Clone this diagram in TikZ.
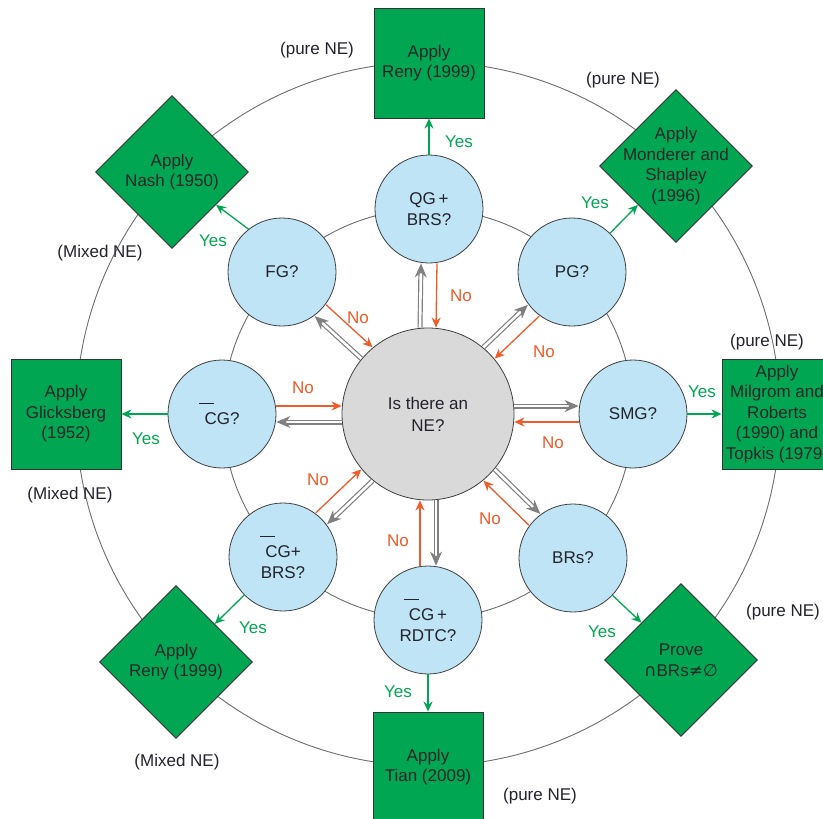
\documentclass[tikz,border=0pt]{standalone}
\usepackage{fontspec}
\setmainfont{Liberation Sans}
\newfontfamily\symf{DejaVu Sans}
\usetikzlibrary{shapes.geometric,arrows.meta,calc}
\definecolor{boxgreen}{RGB}{0,166,81}
\definecolor{ygreen}{RGB}{0,166,81}
\definecolor{nored}{RGB}{241,90,41}
\definecolor{qblue}{RGB}{190,228,246}
\definecolor{cgray}{RGB}{217,217,217}
\definecolor{ringc}{RGB}{110,110,110}
\definecolor{txt}{RGB}{35,35,45}
\newcommand\Cb{\makebox[0pt][l]{\hspace{-0.3em}\rule[1.22em]{0.88em}{0.075em}}C}
\begin{document}
\begin{tikzpicture}[x=1pt,y=1pt,
  every node/.style={font=\fontsize{17}{20.5}\selectfont, text=txt},
  ring/.style={draw=ringc, line width=0.9pt},
  qnode/.style={circle, draw=black!75, line width=0.8pt, fill=qblue, minimum size=108pt, inner sep=0pt, align=center},
  centernode/.style={circle, draw=black!75, line width=0.8pt, fill=cgray, minimum size=172pt, inner sep=0pt, align=center, font=\fontsize{17}{22}\selectfont},
  rectbox/.style={rectangle, draw=black!80, line width=0.9pt, fill=boxgreen, minimum size=110pt, inner sep=0pt, align=center, text=black!85},
  dbox/.style={diamond, draw=black!80, line width=0.9pt, fill=boxgreen, minimum size=153pt, inner sep=0pt},
  dtext/.style={align=center, text=black!85, inner sep=0pt},
  yes/.style={text=ygreen},
  no/.style={text=nored},
  ne/.style={text=txt},
  yarrow/.style={draw=ygreen, line width=1.3pt, -{Stealth[length=10pt,width=9pt]}},
  rarrow/.style={draw=nored, line width=1.3pt, -{Stealth[length=10pt,width=9pt]}},
  garrow/.style={draw=gray, line width=1.2pt, double=white, double distance=2.6pt, -{Stealth[length=14pt,width=12pt]}}
]
\useasboundingbox (0,0) rectangle (823,-819);
\fill[white] (0,0) rectangle (823,-819);
% rings
\draw[ring] (428,-414) circle (352);
\draw[ring] (428,-414) circle (205);
% center
\node[centernode] (ctr) at (428,-414) {Is there an\\NE?};
% question circles
\node[qnode] (q) at (429,-209) {QG\,+\\BRS?};
\node[qnode] (p) at (572,-272) {PG?};
\node[qnode] (s) at (633,-414) {SMG?};
\node[qnode] (b) at (573,-558) {BRs?};
\node[qnode] (r) at (428,-620) {\Cb G\,+\\RDTC?};
\node[qnode] (cb) at (283,-557) {\Cb G+\\BRS?};
\node[qnode] (c) at (222,-414) {\Cb G?};
\node[qnode] (f) at (282,-272) {FG?};
% outer boxes
\node[rectbox] (tr) at (429,-63) {Apply\\Reny (1999)};
\node[dbox] (mond) at (676,-166) {};
\node[dtext] at (mond) {Apply\\Monderer and\\Shapley\\(1996)};
\node[rectbox] (rr) at (777,-414) {Apply\\Milgrom and\\Roberts\\(1990) and\\Topkis (1979)};
\node[dbox] (brd) at (681,-660) {};
\node[dtext] at (brd) {Prove\\{\symf ∩}BRs{\symf ≠∅}};
\node[rectbox] (br) at (428,-767) {Apply\\Tian (2009)};
\node[dbox] (bld) at (176,-662) {};
\node[dtext] at (bld) {Apply\\Reny (1999)};
\node[rectbox] (lr) at (66,-414) {Apply\\Glicksberg\\(1952)};
\node[dbox] (nash) at (172,-172) {};
\node[dtext] at (nash) {Apply\\Nash (1950)};
% gray and red arrows
\foreach \n/\a in {q/90, p/45, s/0, b/-45, r/-90, cb/-135, c/180, f/135}{
  \pgfmathtruncatemacro\o{\a+180}
  \draw[garrow] ([shift={(\a+90:8)}]ctr.\a) -- ([shift={(\a+90:8)}]\n.\o);
  \draw[rarrow] ([shift={(\a-90:8)}]\n.\o) -- ([shift={(\a-90:8)}]ctr.\a);
}
% green arrows
\draw[yarrow] (q) -- (tr);
\draw[yarrow] (p) -- (mond);
\draw[yarrow] (s) -- (rr);
\draw[yarrow] (b) -- (brd);
\draw[yarrow] (r) -- (br);
\draw[yarrow] (cb) -- (bld);
\draw[yarrow] (c) -- (lr);
\draw[yarrow] (f.128) -- (nash);
% No labels
\node[no] (no1) at (461,-296) {No};
\node[no] (no2) at (544,-352) {No};
\node[no] (no3) at (553,-443) {No};
\node[no] (no4) at (490,-519) {No};
\node[no] (no5) at (398,-541) {No};
\node[no] (no6) at (318,-480) {No};
\node[no] (no7) at (303,-388) {No};
\node[no] (no8) at (358,-318) {No};
% Yes labels
\node[yes] (y1) at (459,-142) {Yes};
\node[yes] (y2) at (595,-203) {Yes};
\node[yes] (y3) at (702,-392) {Yes};
\node[yes] (y4) at (602,-632) {Yes};
\node[yes] (y5) at (398,-692) {Yes};
\node[yes] (y6) at (253,-628) {Yes};
\node[yes] (y7) at (146,-439) {Yes};
\node[yes] (y8) at (213,-241) {Yes};
% NE labels
\node[ne] (n1) at (317,-50) {(pure NE)};
\node[ne] (n2) at (623,-80) {(pure NE)};
\node[ne] (n3) at (100,-253) {(Mixed NE)};
\node[ne] (n4) at (767,-342) {(pure NE)};
\node[ne] (n5) at (70,-495) {(Mixed NE)};
\node[ne] (n6) at (783,-612) {(pure NE)};
\node[ne] (n7) at (177,-762) {(Mixed NE)};
\node[ne] (n8) at (540,-796) {(pure NE)};
\end{tikzpicture}
\end{document}
